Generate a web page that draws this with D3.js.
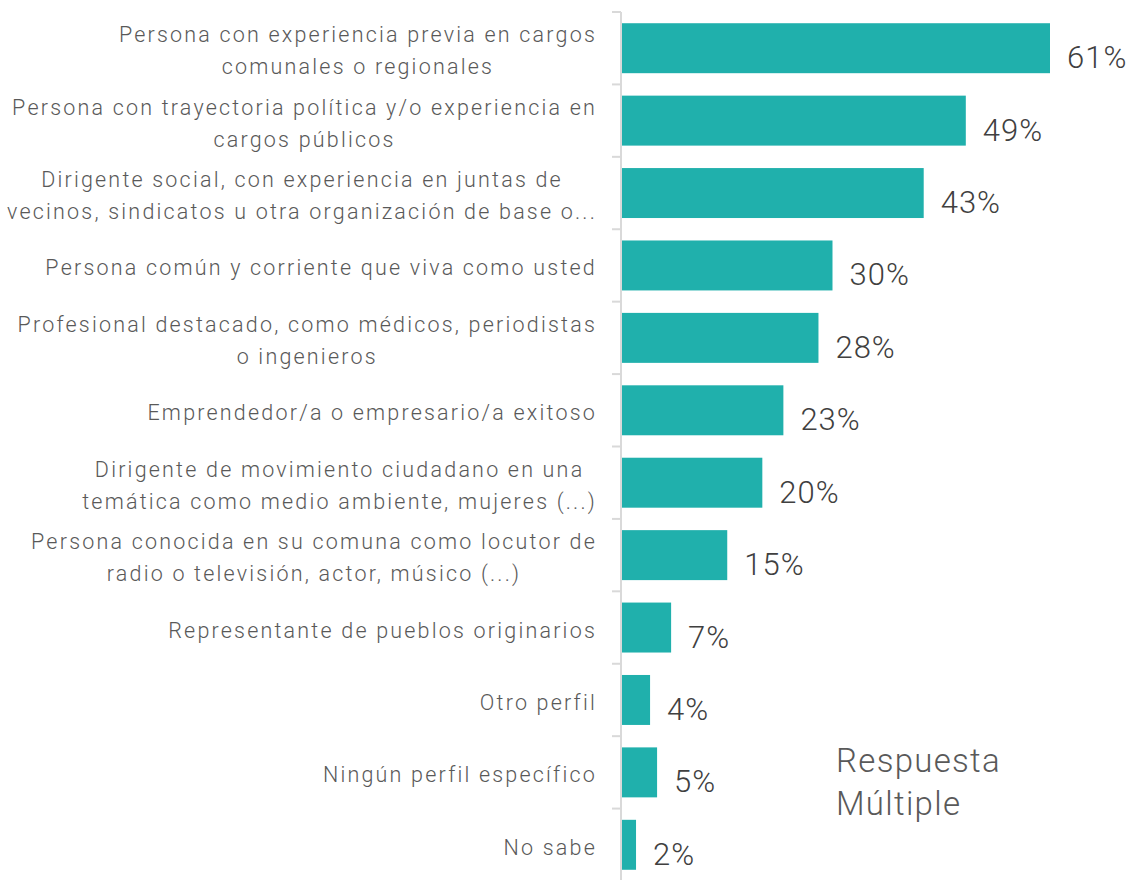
<!DOCTYPE html>
<html>
<head>
<meta charset="utf-8">
<script src="https://cdn.jsdelivr.net/npm/d3@7"></script>
<style>
  body { margin: 0; background: #fff; }
  svg text { font-family: Roboto, "Open Sans", sans-serif; font-weight: 300; }
</style>
</head>
<body>
<div id="chart"></div>
<script>
'use strict';

const categories = [
    ["Persona con experiencia previa en cargos", "comunales o regionales"],
    ["Persona con trayectoria política y/o experiencia en", "cargos públicos"],
    ["Dirigente social, con experiencia en juntas de", "vecinos, sindicatos u otra organización de base o..."],
    ["Persona común y corriente que viva como usted"],
    ["Profesional destacado, como médicos, periodistas", "o ingenieros"],
    ["Emprendedor/a o empresario/a exitoso"],
    ["Dirigente de movimiento ciudadano en una", "temática como medio ambiente, mujeres (...)"],
    ["Persona conocida en su comuna como locutor de", "radio o televisión, actor, músico (...)"],
    ["Representante de pueblos originarios"],
    ["Otro perfil"],
    ["Ningún perfil específico"],
    ["No sabe"]
];
const values = [61, 49, 43, 30, 28, 23, 20, 15, 7, 4, 5, 2];
const noteLines = ["Respuesta", "Múltiple"];

const width = 1133, height = 880;
const axisX = 621;

let svg = d3.select('#chart').append('svg')
    .attr('width', width)
    .attr('height', height);

let yScale = d3.scaleBand()
    .domain(d3.range(categories.length))
    .range([12, 881])
    .paddingInner(0.31)
    .paddingOuter(0.155);

let xScale = d3.scaleLinear()
    .domain([0, 61])
    .range([axisX + 1, 1050]);

// axis line and tick marks at band boundaries
svg.append('line')
    .attr('x1', axisX).attr('x2', axisX)
    .attr('y1', 12).attr('y2', 881)
    .attr('stroke', '#d9d9d9')
    .attr('stroke-width', 2);

let step = yScale.step();
svg.selectAll('.tick-mark')
    .data(d3.range(categories.length))
    .enter()
    .append('line')
    .attr('class', 'tick-mark')
    .attr('x1', axisX - 9).attr('x2', axisX)
    .attr('y1', i => 12 + i * step)
    .attr('y2', i => 12 + i * step)
    .attr('stroke', '#d9d9d9')
    .attr('stroke-width', 2);

// bars
svg.selectAll('.bar')
    .data(values)
    .enter()
    .append('rect')
    .attr('class', 'bar')
    .attr('x', xScale(0))
    .attr('y', (d, i) => yScale(i))
    .attr('width', d => xScale(d) - xScale(0))
    .attr('height', yScale.bandwidth())
    .attr('fill', '#20b0ac');

// value labels
svg.selectAll('.value')
    .data(values)
    .enter()
    .append('text')
    .attr('class', 'value')
    .attr('x', d => xScale(d) + 17)
    .attr('y', (d, i) => yScale(i) + yScale.bandwidth() / 2 + 20)
    .attr('font-size', 31)
    .attr('letter-spacing', 1)
    .attr('fill', '#404040')
    .text(d => d + '%');

// category labels: lines centred on each other, block right-aligned
let labelRight = 597;
categories.forEach((lines, i) => {
    let cy = yScale(i) + yScale.bandwidth() / 2;
    let g = svg.append('g');
    let texts = lines.map((ln, j) => g.append('text')
        .attr('font-size', 21.5)
        .attr('letter-spacing', 2.2)
        .attr('fill', '#595959')
        .attr('text-anchor', 'middle')
        .attr('y', cy + 10 + (j - (lines.length - 1) / 2) * 32)
        .text(ln));
    let maxW = d3.max(texts, t => t.node().getComputedTextLength());
    texts.forEach(t => t.attr('x', labelRight - maxW / 2));
});

// note
svg.selectAll('.note')
    .data(noteLines)
    .enter()
    .append('text')
    .attr('class', 'note')
    .attr('x', 836)
    .attr('y', (d, i) => 772 + i * 43)
    .attr('font-size', 33)
    .attr('letter-spacing', 1.3)
    .attr('fill', '#595959')
    .text(d => d);
</script>
</body>
</html>
